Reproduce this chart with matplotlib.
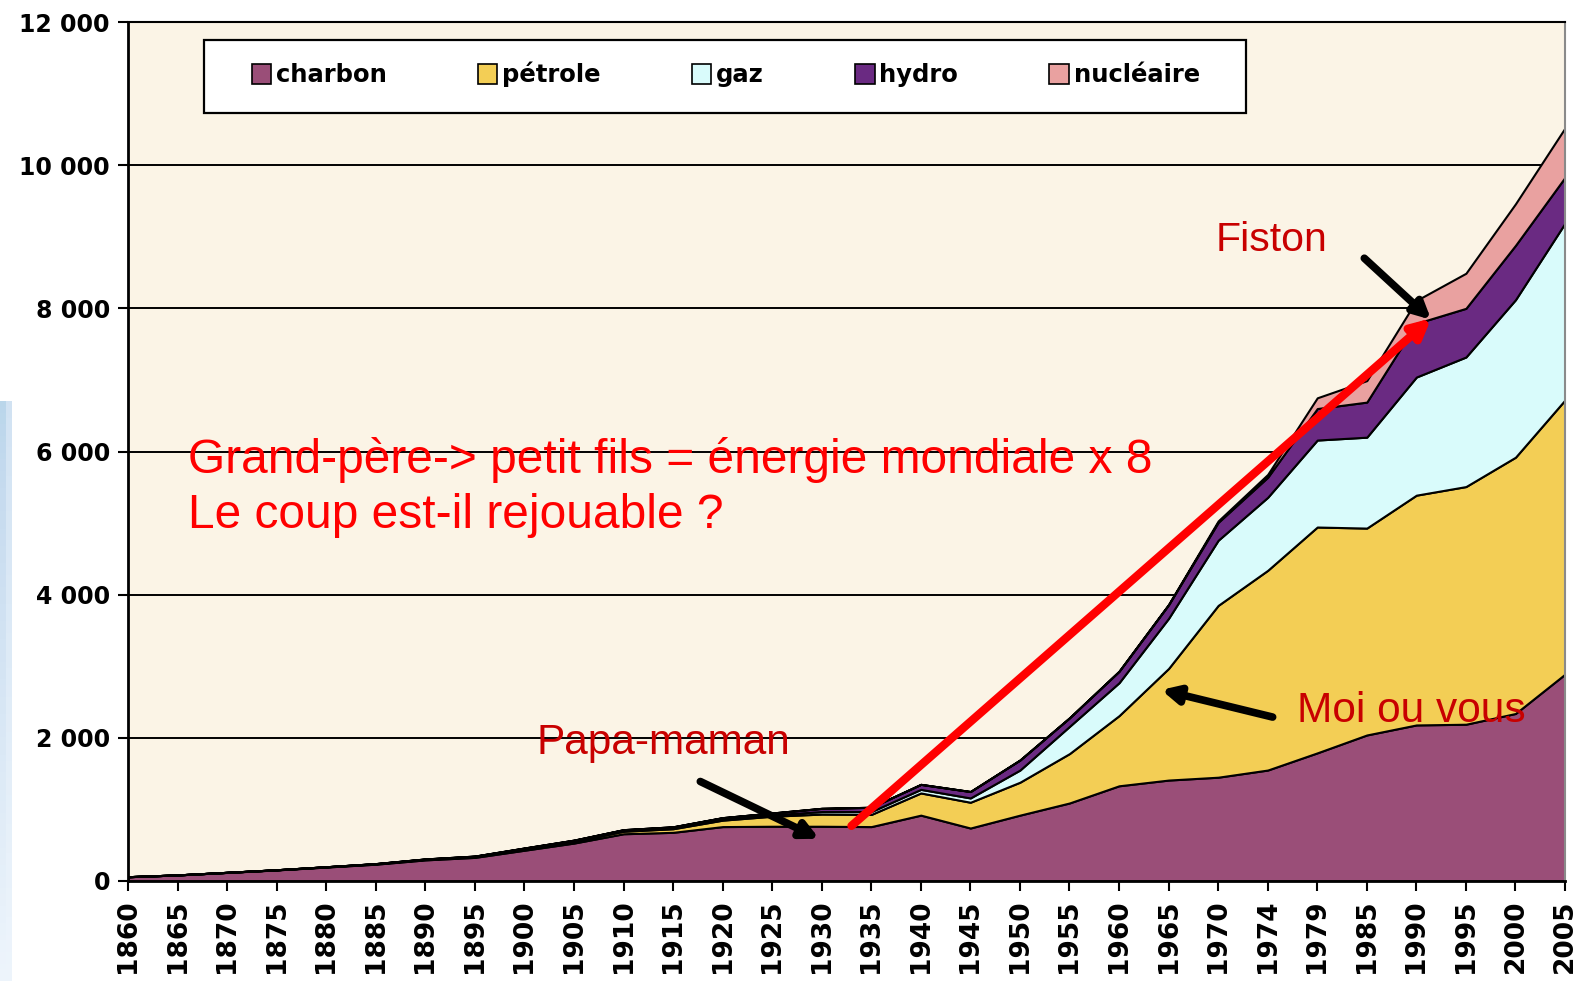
import numpy as np
import matplotlib
matplotlib.use("Agg")
import matplotlib.pyplot as plt
from matplotlib.patches import Rectangle, Patch
from matplotlib.ticker import FuncFormatter

# world primary energy by source (Mtep)
years = [1860, 1865, 1870, 1875, 1880, 1885, 1890, 1895, 1900, 1905,
         1910, 1915, 1920, 1925, 1930, 1935, 1940, 1945, 1950, 1955,
         1960, 1965, 1970, 1974, 1979, 1985, 1990, 1995, 2000, 2005]
charbon = [60, 85, 120, 155, 195, 235, 295, 330, 430, 530,
           660, 680, 760, 765, 765, 760, 920, 740, 920, 1090,
           1330, 1410, 1450, 1550, 1790, 2040, 2180, 2190, 2340, 2890]
petrole = [0, 0, 1, 2, 3, 5, 8, 10, 20, 25,
           35, 50, 90, 140, 170, 170, 310, 360, 460, 690,
           980, 1560, 2400, 2790, 3155, 2890, 3210, 3320, 3580, 3830]
gaz = [0, 0, 0, 0, 1, 2, 3, 5, 6, 8,
       10, 12, 15, 20, 35, 40, 50, 60, 170, 380,
       460, 700, 910, 1020, 1215, 1270, 1650, 1810, 2200, 2470]
hydro = [0, 0, 0, 0, 0, 1, 2, 3, 5, 8,
         12, 15, 20, 25, 45, 60, 70, 90, 140, 120,
         160, 190, 250, 280, 440, 490, 750, 680, 760, 640]
nucleaire = [0, 0, 0, 0, 0, 0, 0, 0, 0, 0,
             0, 0, 0, 0, 0, 0, 0, 0, 0, 0,
             1, 5, 20, 40, 150, 300, 320, 490, 580, 690]

labels = ['charbon', 'pétrole', 'gaz', 'hydro', 'nucléaire']
colors = ['#9A4E78', '#F3CE55', '#D9FBFB', '#6A2A82', '#E9A1A0']

x = np.arange(len(years))

fig = plt.figure(figsize=(15.76, 9.81), dpi=100)
fig.patch.set_facecolor('white')

# light blue strip from the slide background at the left edge
strip = fig.add_axes([0, 0, 12 / 1576, 580 / 981])
grad = np.linspace(0, 1, 100).reshape(-1, 1)
grad = np.hstack([grad, grad * 0.6])
strip.imshow(grad, aspect='auto', cmap='Blues', vmin=-0.2, vmax=4.0, origin='lower')
strip.axis('off')

ax = fig.add_axes([128 / 1576, 100 / 981, 1437 / 1576, 859 / 981])
ax.set_facecolor('#FBF4E6')

ax.stackplot(x, charbon, petrole, gaz, hydro, nucleaire, colors=colors,
             edgecolor='black', linewidth=1.5, zorder=2)

ax.set_xlim(0, len(years) - 1)
ax.set_ylim(0, 12000)
ax.set_yticks(np.arange(0, 12001, 2000))
ax.yaxis.set_major_formatter(FuncFormatter(lambda v, p: f"{int(v):,}".replace(',', ' ')))
ax.set_xticks(x)
ax.set_xticklabels([str(y) for y in years], rotation=90)
for v in range(2000, 12000, 2000):
    ax.axhline(v, color='black', lw=1.4, zorder=1)

ax.tick_params(axis='both', direction='out', length=7, width=1.5, color='black')
ax.tick_params(axis='y', pad=6)
ax.tick_params(axis='x', pad=6)
for lab in ax.get_yticklabels():
    lab.set_fontsize(17)
    lab.set_fontweight('bold')
for lab in ax.get_xticklabels():
    lab.set_fontsize(19)
    lab.set_fontweight('bold')

for side in ['left', 'bottom']:
    ax.spines[side].set_linewidth(2)
ax.spines['top'].set_linewidth(1.5)
ax.spines['right'].set_color('#8a8a8a')
ax.spines['right'].set_linewidth(1.5)

# legend box
ax.add_patch(Rectangle((0.053, 0.894), 0.725, 0.085, transform=ax.transAxes,
                       facecolor='white', edgecolor='black', lw=1.6, zorder=5))
handles = [Patch(facecolor=c, edgecolor='black', lw=1.2) for c in colors]
leg = ax.legend(handles, labels, ncol=5, loc='center', bbox_to_anchor=(0.416, 0.939),
                frameon=False, prop={'family': 'DejaVu Sans', 'weight': 'bold', 'size': 17.5},
                handlelength=0.8, handleheight=0.9, handletextpad=0.2, columnspacing=3.75)
leg.set_zorder(6)

red = '#FF0000'
dark_red = '#C80000'
txt = dict(family='Liberation Sans', zorder=7)

ax.text(1.22, 5500, "Grand-père-> petit fils = énergie mondiale x 8\nLe coup est-il rejouable ?",
        color=red, fontsize=34.5, va='center', ha='left', linespacing=1.3, **txt)
ax.text(21.95, 8950, "Fiston", color=dark_red, fontsize=29.5, va='center', ha='left', **txt)
ax.text(23.6, 2380, "Moi ou vous", color=dark_red, fontsize=30.5, va='center', ha='left', **txt)
ax.text(8.25, 1930, "Papa-maman", color=dark_red, fontsize=30.5, va='center', ha='left', **txt)

# arrows
ax.annotate("", xy=(26.3, 7860), xytext=(14.6, 770),
            arrowprops=dict(arrowstyle='-|>,head_length=1.1,head_width=0.55',
                            color=red, lw=6, shrinkA=0, shrinkB=0), zorder=8)
ax.annotate("", xy=(26.3, 7840), xytext=(24.95, 8700),
            arrowprops=dict(arrowstyle='-|>,head_length=1.0,head_width=0.5',
                            color='black', lw=5.5, shrinkA=0, shrinkB=0), zorder=8)
ax.annotate("", xy=(20.85, 2670), xytext=(23.1, 2290),
            arrowprops=dict(arrowstyle='-|>,head_length=1.0,head_width=0.5',
                            color='black', lw=5.5, shrinkA=0, shrinkB=0), zorder=8)
ax.annotate("", xy=(13.95, 590), xytext=(11.55, 1390),
            arrowprops=dict(arrowstyle='-|>,head_length=1.0,head_width=0.5',
                            color='black', lw=5.5, shrinkA=0, shrinkB=0), zorder=8)

fig.savefig('out.png', dpi=100)
